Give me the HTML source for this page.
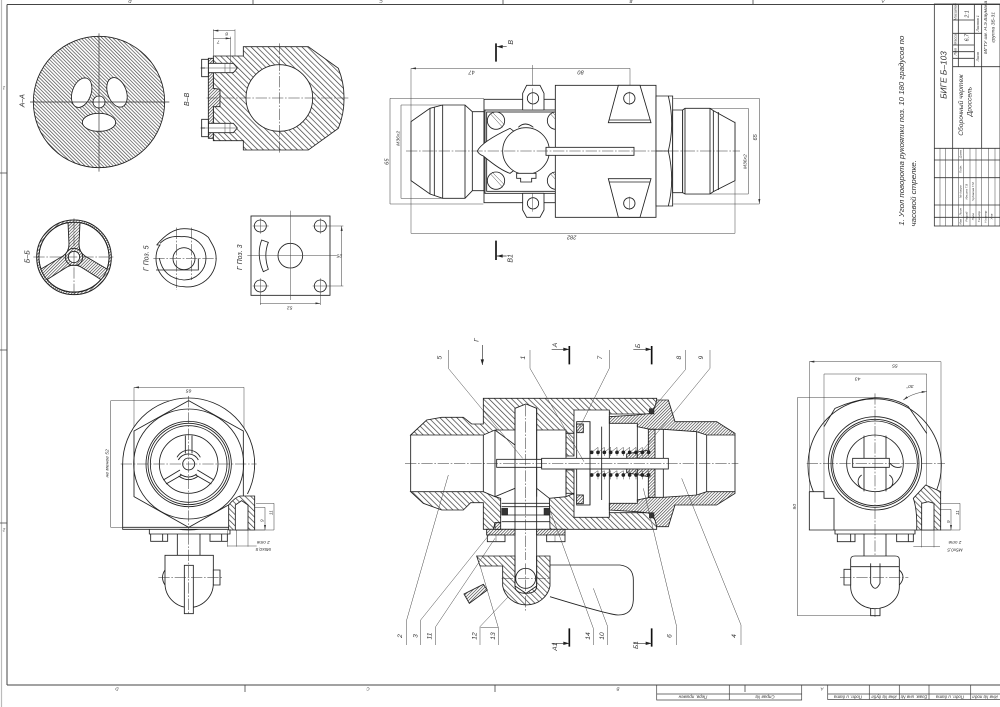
<!DOCTYPE html>
<html lang="ru"><head><meta charset="utf-8"><title>Дроссель</title>
<style>
html,body{margin:0;padding:0;background:#fff}
svg{display:block;filter:blur(.35px)}
text{font-family:"Liberation Sans","DejaVu Sans",sans-serif;font-style:italic;fill:#333;text-anchor:middle;dominant-baseline:central}
.m{fill:none;stroke:#222;stroke-width:2.6}
.w{fill:#fff;stroke:#222;stroke-width:2.6}
.h{fill:url(#h);stroke:#222;stroke-width:2.6}
.n{fill:url(#n);stroke:#222;stroke-width:2.6}
.k{fill:#333;stroke:#222;stroke-width:1.5}
.t{fill:none;stroke:#444;stroke-width:1.5}
.c{fill:none;stroke:#333;stroke-width:1.6;stroke-dasharray:34 5 5 5}
.d{fill:none;stroke:#444;stroke-width:1.6;marker-start:url(#ar);marker-end:url(#ar)}
.l{fill:none;stroke:#333;stroke-width:2}
.s{fill:none;stroke:#111;stroke-width:5}
.q{fill:#222;stroke:none}
.f{fill:none;stroke:#333;stroke-width:2.4}
</style></head><body>
<svg width="1000" height="707" viewBox="0 0 1000 707" xmlns="http://www.w3.org/2000/svg">
<defs>
<pattern id="a" width="7.5" height="7.5" patternUnits="userSpaceOnUse" patternTransform="rotate(-45)"><rect width="7.5" height="7.5" fill="#fff"/><line x1="1" y1="0" x2="1" y2="7.5" stroke="#444" stroke-width="2"/></pattern>
<pattern id="h" width="12" height="12" patternUnits="userSpaceOnUse" patternTransform="rotate(-45)"><rect width="12" height="12" fill="#fff"/><line x1="1" y1="0" x2="1" y2="12" stroke="#333" stroke-width="2"/></pattern>
<pattern id="n" width="6.5" height="6.5" patternUnits="userSpaceOnUse" patternTransform="rotate(45)"><rect width="6.5" height="6.5" fill="#fff"/><line x1="1" y1="0" x2="1" y2="6.5" stroke="#444" stroke-width="2"/></pattern>
<marker id="ar" markerUnits="userSpaceOnUse" markerWidth="16" markerHeight="8" refX="15" refY="4" orient="auto-start-reverse"><path d="M0 1L15 4L0 7Z" fill="#333"/></marker>
</defs>
<rect width="1000" height="707" fill="#fff"/>

<!-- frame -->
<g fill="none" stroke="#444">
<path d="M7 4.5H1000M7 4.5V685M7 685H1000" stroke-width="1"/>
<path d="M1.5 0V707" stroke="#bbb" stroke-width="1.2"/>
<path d="M253 0V4.5M503 0V4.5M753 0V4.5M0 173H7M0 350H7M0 523H7M245 685V692M495 685V692M745 685V692" stroke-width=".8"/>
<path d="M656.7 685V700H801.7V685M729.3 685V700M656.7 694H801.7M827.7 685V699.5H1000M869.3 685V699.5M899.3 685V699.5M929 685V699.5M970.7 685V699.5M827.7 694H1000" stroke-width=".7"/>
</g>
<g font-size="4.5">
<text x="130" y="1.5" transform="rotate(180 130 1.5)">D</text>
<text x="381" y="1.5" transform="rotate(180 381 1.5)">C</text>
<text x="631" y="1.5" transform="rotate(180 631 1.5)">B</text>
<text x="883" y="1.5" transform="rotate(180 883 1.5)">A</text>
<text x="117" y="689" transform="rotate(180 117 689)">D</text>
<text x="368" y="689" transform="rotate(180 368 689)">C</text>
<text x="618" y="689" transform="rotate(180 618 689)">B</text>
<text x="822" y="689" transform="rotate(180 822 689)">A</text>
<text x="4" y="88" transform="rotate(180 4 88)">1</text>
<text x="4" y="530" transform="rotate(180 4 530)">2</text>
<text x="693" y="697" transform="rotate(180 693 697)">Перв. примен</text>
<text x="765" y="697" transform="rotate(180 765 697)">Справ №</text>
<text x="848" y="697" transform="rotate(180 848 697)">Подп. и дата</text>
<text x="884" y="697" transform="rotate(180 884 697)">Инв № дубл</text>
<text x="914" y="697" transform="rotate(180 914 697)">Взам. инв №</text>
<text x="950" y="697" transform="rotate(180 950 697)">Подп. и дата</text>
<text x="985" y="697" transform="rotate(180 985 697)">Инв № подл</text>
</g>

<!-- upper-left group (3x coordinates) -->
<g transform="scale(.33333)">
<!-- A-A -->
<circle cx="297" cy="306" r="197" fill="url(#a)" stroke="#222" stroke-width="2.6"/>
<ellipse cx="245" cy="278" rx="28" ry="46" transform="rotate(20 245 278)" class="w"/>
<ellipse cx="351" cy="277" rx="28" ry="46" transform="rotate(-20 351 277)" class="w"/>
<ellipse cx="297" cy="367" rx="50" ry="27" class="w"/>
<circle cx="297" cy="306" r="18" class="w"/>
<path d="M297 100V515M90 306H508" class="l"/>
<text x="69" y="302" font-size="21" transform="rotate(-90 69 302)">А–А</text>

<!-- B-B -->
<path d="M640 168H730V140H925L1015 205Q1033 250 1032 295Q1033 340 1015 385L925 450H730V422H640Z" class="h"/>
<circle cx="838" cy="294" r="100" class="w"/>
<path d="M625 175H640V265L660 268V320H640V415H625Z" class="n"/>
<path d="M625 190H700L712 204L700 218H625ZM625 370H700L712 384L700 398H625Z" class="w"/>
<path d="M605 178H625V230H605ZM605 358H625V410H605Z" class="w"/>
<path d="M675 190V218M690 190V218M675 370V398M690 370V398M605 204H712M605 384H712" class="t"/>
<path d="M602 204H615M602 384H615" class="m"/>
<path d="M838 130V460M620 294H1045" class="c"/>
<path d="M640 88V168M705 88V168M692 110V190" class="t"/>
<path d="M640 92H705M640 115H692" class="d"/>
<text x="680" y="101" font-size="15" transform="rotate(180 680 101)">8</text>
<text x="655" y="125" font-size="15" transform="rotate(180 655 125)">7</text>
<text x="562" y="298" font-size="21" transform="rotate(-90 562 298)">В–В</text>

<!-- Б-Б -->
<circle cx="222" cy="772" r="112" fill="url(#n)" stroke="#222" stroke-width="3"/>
<g transform="translate(222,771) scale(3) translate(-74,-257)">
<path d="M80 222.5A35 35 0 0 1 106.9 269L85 256Q79 252 79 244Z" fill="#fff" stroke="#222" stroke-width=".9"/>
<path d="M68 222.5A35 35 0 0 0 41.1 269L63 256Q69 252 69 244Z" fill="#fff" stroke="#222" stroke-width=".9"/>
<path d="M100.8 279.5A35 35 0 0 1 47.2 279.5L67 267Q74 263 81 267Z" fill="#fff" stroke="#222" stroke-width=".9"/>
</g>
<circle cx="222" cy="772" r="105" fill="none" stroke="#222" stroke-width="2.6"/>
<circle cx="222" cy="771" r="26" fill="url(#n)" stroke="#222" stroke-width="2.6"/>
<circle cx="222" cy="771" r="17" class="w"/>
<path d="M222 655V890M100 771H340" class="c"/>
<text x="84" y="770" font-size="21" transform="rotate(-90 84 770)">Б–Б</text>

<!-- Г Поз 5 -->
<path d="M470 735Q510 686 552 686Q595 686 625 712L638 735" class="m"/>
<path d="M638 735A85 85 0 0 1 552 860A85 85 0 0 1 468 775Q468 750 480 735L470 735" class="m"/>
<path d="M480 730Q505 705 545 710A66 66 0 0 1 618 775A66 66 0 0 1 552 840Q490 835 478 775" class="m"/>
<circle cx="552" cy="776" r="33" class="m"/>
<path d="M468 810H595V775" class="m"/>
<path d="M530 683V870M575 683V840M460 775H650" class="c"/>
<text x="441" y="775" font-size="21" transform="rotate(-90 441 775)">Г Поз. 5</text>

<!-- Г Поз 3 -->
<rect x="753" y="648" width="237" height="238" class="m"/>
<circle cx="871" cy="767" r="37" class="m"/>
<g class="m"><circle cx="781" cy="678" r="18"/><circle cx="961" cy="678" r="18"/><circle cx="781" cy="858" r="18"/><circle cx="961" cy="858" r="18"/></g>
<path d="M785 720L805 727Q790 765 805 808L790 815Q768 765 785 720Z" class="m"/>
<path d="M871 632V900M742 767H1010M758 678H806M938 678H1030M758 858H806M938 858H1030M781 655V701M961 655V701M781 835V915M961 835V915" class="t"/>
<path d="M1025 678V858M781 910H961" class="d"/>
<text x="1018" y="766" font-size="15" transform="rotate(180 1018 766)">25</text>
<text x="869" y="922" font-size="15" transform="rotate(180 869 922)">52</text>
<text x="722" y="772" font-size="21" transform="rotate(-90 722 772)">Г Поз. 3</text>
</g>

<!-- top view -->
<g transform="translate(370,30) scale(.33333)">
<path d="M123 115V610M1095 275V610M780 115V215M487 115V205M60 205H342M93 225H218M910 205H1168M945 235H1135M93 505H218M60 522H340M910 522H1168M945 492H1135" class="t"/>
<path d="M123 115H780M123 610H1095M60 205V522M93 225V505M1135 235V492M1168 205V522" class="d"/>
<path d="M487 105V115" class="t"/>
<path d="M123 275L180 235L218 225H285L307 245H342V482H307L285 505H218L180 492L123 452Z" class="w"/>
<path d="M180 235V492M193 232V497M218 225V505M285 225V505M307 245V482" class="m"/>
<path d="M342 208H556V518H342Z" class="w"/>
<rect x="345" y="240" width="245" height="250" class="w"/>
<rect x="350" y="246" width="234" height="238" class="m"/>
<path d="M458 240V190L470 166H510L522 190V240" class="w"/>
<path d="M458 490V540L470 562H510L522 540V490" class="w"/>
<path d="M458 240H522M458 490H522" class="w"/>
<circle cx="489" cy="205" r="17" class="w"/><circle cx="489" cy="520" r="17" class="w"/>
<g class="w"><circle cx="378" cy="272" r="26"/><circle cx="558" cy="272" r="26"/><circle cx="378" cy="452" r="26"/><circle cx="558" cy="452" r="26"/></g>
<path d="M360 250L398 292M366 246L404 285M540 250L578 292M546 246L584 285M360 430L398 472M366 426L404 465M540 430L578 472M546 426L584 465" class="t"/>
<path d="M322 363Q335 335 420 295L440 310V415L420 430Q390 420 340 378Q325 372 322 363Z" class="w"/>
<path d="M445 292Q465 272 490 292" class="m"/>
<circle cx="468" cy="363" r="70" class="w"/>
<path d="M440 430H498V445H485V456H452V445H440Z" class="w"/>
<rect x="556" y="166" width="302" height="396" class="w"/>
<path d="M745 166H810L843 278H715Z" class="w"/>
<path d="M718 270H840" class="m"/>
<path d="M745 562H810L843 446H715Z" class="w"/>
<path d="M718 456H840" class="m"/>
<circle cx="778" cy="205" r="17" class="w"/><circle cx="778" cy="520" r="17" class="w"/>
<rect x="528" y="352" width="264" height="24" class="w"/>
<path d="M858 198H908V528H858Z" class="w"/>
<path d="M895 198Q915 280 895 363Q915 450 895 528M858 363H895" class="m"/>
<path d="M908 240H938V488H908Z" class="w"/>
<path d="M938 240L945 235H1020L1030 242L1095 278V452L1030 485L1020 492H945L938 488Z" class="w"/>
<path d="M945 235V492M1020 235V492M1030 242V485M1045 246V480" class="m"/>
<path d="M108 363H1110" class="c"/>
<path d="M487 175V240M487 490V545M778 185V225M778 500V540" class="t"/>
<text x="305" y="125" font-size="17" transform="rotate(180 305 125)">47</text>
<text x="632" y="125" font-size="17" transform="rotate(180 632 125)">80</text>
<text x="605" y="620" font-size="17" transform="rotate(180 605 620)">282</text>
<text x="52" y="395" font-size="17" transform="rotate(-90 52 395)">65</text>
<text x="85" y="325" font-size="15" transform="rotate(-90 85 325)">М36х2</text>
<text x="1127" y="395" font-size="15" transform="rotate(-90 1127 395)">М36х2</text>
<text x="1158" y="322" font-size="17" transform="rotate(-90 1158 322)">65</text>
<path d="M378 40V95M378 632V690" class="s"/>
<path d="M380 50H410M380 678H410" class="l"/><path d="M380 50L398 45V55ZM380 678L398 673V683Z" class="q"/>
<text x="425" y="37" font-size="21" transform="rotate(-90 425 37)">В</text>
<text x="423" y="685" font-size="21" transform="rotate(-90 423 685)">В1</text>
</g>

<!-- central section -->
<g transform="translate(380,330) scale(.33333)">
<rect x="92" y="315" width="770" height="170" fill="#fff"/>
<!-- top hatched -->
<path d="M92 315L140 270L185 262H250L275 282H310V205H830V222L810 252H688V240H582V310H558V300H470V235L438 222L405 235V300H345L310 315Z" class="h"/>
<path d="M558 310H582V378H558ZM558 420H582V490H558Z" class="h"/>
<!-- bottom hatched -->
<path d="M92 485L130 520L185 540H250L272 518H310V598H340L345 578H362V505L345 500L310 485Z" class="h"/>
<path d="M508 505L558 500L582 490V562H688V548H810L830 578V598H510Z" class="h"/>
<!-- right fitting -->
<path d="M688 280V260L770 255L815 250L825 230L830 210H865L885 275H1010L1065 310V315H980L950 305L850 298H810L772 290V280Z" class="n"/>
<path d="M688 520V540L770 545L815 550L825 570L830 590H865L885 525H1010L1065 490V485H980L950 495L850 502H810L772 510V520Z" class="n"/>
<path d="M805 298H825V385H740V372L805 360ZM805 502H825V415H740V428L805 440Z" class="n"/>
<!-- bore lines -->
<path d="M92 315V485M310 315V485M345 300V500M470 300V500M558 300V500M850 298V502M950 305V495M980 315V485M1065 315V485" class="m"/>
<path d="M405 235V690M470 235V690" class="m"/>
<path d="M345 300L405 345M345 500L405 475M470 475L508 505" class="m"/>
<!-- pin rect -->
<rect x="350" y="388" width="135" height="24" class="w"/>
<path d="M405 388V412M470 388V412" class="m"/>
<!-- disk -->
<rect x="590" y="275" width="40" height="250" class="w"/>
<path d="M630 275V525M665 290V510M688 252V548M772 285V515" class="m"/>
<rect x="485" y="385" width="380" height="32" class="w"/>
<path d="M665 385V417M630 385V417" class="m"/>
<!-- seals -->
<rect x="590" y="282" width="20" height="26" class="n"/><rect x="590" y="495" width="20" height="26" class="n"/>
<rect x="365" y="535" width="18" height="20" class="k"/><rect x="492" y="535" width="18" height="20" class="k"/>
<rect x="808" y="236" width="14" height="16" class="k"/><rect x="808" y="548" width="14" height="16" class="k"/>
<!-- springs -->
<g class="t">
<path d="M635 367L654 352V378M654 367L673 352V378M673 367L692 352V378M692 367L711 352V378M711 367L730 352V378M730 367L749 352V378M749 367L768 352V378M768 367L787 352V378M787 367L806 352V378"/>
<path d="M635 435L654 422V448M654 435L673 422V448M673 435L692 422V448M692 435L711 422V448M711 435L730 422V448M730 435L749 422V448M749 435L768 422V448M768 435L787 422V448M787 435L806 422V448"/>
</g>
<g class="q">
<circle cx="635" cy="367" r="5.5"/><circle cx="654" cy="367" r="5.5"/><circle cx="673" cy="367" r="5.5"/><circle cx="692" cy="367" r="5.5"/><circle cx="711" cy="367" r="5.5"/><circle cx="730" cy="367" r="5.5"/><circle cx="749" cy="367" r="5.5"/><circle cx="768" cy="367" r="5.5"/><circle cx="787" cy="367" r="5.5"/><circle cx="806" cy="367" r="5.5"/>
<circle cx="635" cy="435" r="5.5"/><circle cx="654" cy="435" r="5.5"/><circle cx="673" cy="435" r="5.5"/><circle cx="692" cy="435" r="5.5"/><circle cx="711" cy="435" r="5.5"/><circle cx="730" cy="435" r="5.5"/><circle cx="749" cy="435" r="5.5"/><circle cx="768" cy="435" r="5.5"/><circle cx="787" cy="435" r="5.5"/><circle cx="806" cy="435" r="5.5"/>
</g>
<!-- lower flange -->
<path d="M365 520H510M365 530H510M365 555H510M365 575H510M345 598H510" class="m"/>
<path d="M320 598H405V615H320ZM470 598H555V615H470Z" class="n"/>
<path d="M345 578H362V598H345Z" class="n"/>
<path d="M322 615H375V635H322ZM500 615H555V635H500Z" class="w"/>
<path d="M348 615V635M525 615V635" class="t"/>
<!-- handle -->
<path d="M510 705H720Q760 710 760 750V810Q758 855 715 855Q690 855 510 800" class="w"/>
<path d="M290 678H405V768L438 790L470 768V678H510V768A72 68 0 0 1 368 768V708H300Z" class="h"/>
<path d="M405 678V768Q405 790 438 790Q470 790 470 768V678" class="m"/>
<circle cx="437" cy="745" r="30" class="m"/>
<path d="M365 745H512M437 700V845" class="c"/>
<path d="M252 792L310 763L322 780L268 820Z" class="n"/>
<!-- axis -->
<path d="M75 400H1075" class="c"/>
<path d="M437 225V690" class="c"/>
<!-- leaders -->
<g class="t">
<path d="M205 60V115L428 385M450 60V115L612 395M688 60V115L590 310M917 60V118L815 240M990 60V115L785 365"/>
<path d="M80 945V870L205 435M122 945V870L335 605M167 945V890L345 625M300 945V890L385 800M302 893H355V945M355 893L298 700M640 945V895L510 540M683 945V890L640 775M890 945V890L790 475M1083 945V885L905 445"/>
</g>
<g font-size="20">
<text x="180" y="83" transform="rotate(-90 180 83)">5</text>
<text x="430" y="83" transform="rotate(-90 430 83)">1</text>
<text x="662" y="83" transform="rotate(-90 662 83)">7</text>
<text x="898" y="83" transform="rotate(-90 898 83)">8</text>
<text x="965" y="83" transform="rotate(-90 965 83)">9</text>
<text x="62" y="918" transform="rotate(-90 62 918)">2</text>
<text x="108" y="918" transform="rotate(-90 108 918)">3</text>
<text x="150" y="918" transform="rotate(-90 150 918)">11</text>
<text x="285" y="918" transform="rotate(-90 285 918)">12</text>
<text x="340" y="918" transform="rotate(-90 340 918)">13</text>
<text x="625" y="918" transform="rotate(-90 625 918)">14</text>
<text x="668" y="918" transform="rotate(-90 668 918)">10</text>
<text x="870" y="918" transform="rotate(-90 870 918)">6</text>
<text x="1063" y="918" transform="rotate(-90 1063 918)">4</text>
<text x="291" y="30" transform="rotate(-90 291 30)">Г</text>
<text x="527" y="45" transform="rotate(-90 527 45)">А</text>
<text x="775" y="48" transform="rotate(-90 775 48)">Б</text>
<text x="527" y="950" transform="rotate(-90 527 950)">А1</text>
<text x="770" y="945" transform="rotate(-90 770 945)">Б1</text>
</g>
<path d="M307 45V105" class="l"/><path d="M307 105L302 88H312Z" class="q"/>
<path d="M568 48V103M815 48V103M568 895V950M815 895V950" class="s"/>
<path d="M515 58H568M760 58H815M515 940H568M760 940H815" class="l"/>
<path d="M568 58L550 53V63ZM815 58L797 53V63ZM568 940L550 935V945ZM815 940L797 935V945Z" class="q"/>
</g>

<!-- left view -->
<g transform="translate(90,370) scale(.33333)">
<path d="M132 52V180M462 52V185M62 92H296M62 472H296M552 400H495M552 480H495M525 412H480M525 480H480M412 480V530M440 480V530M474 480V530" class="t"/>
<path d="M132 52H462M62 92V472M552 400V480M525 412V480" class="d"/>
<path d="M412 528H500" class="t"/>
<circle cx="296" cy="282" r="198" class="w"/>
<path d="M98 282V478H420V410H498V378" fill="#fff" stroke="none"/>
<path d="M98 282V478H420M98 472H420" class="m"/>
<path d="M296 92L460 183V380L296 472L132 380V183Z" class="m"/>
<circle cx="296" cy="282" r="165" class="m"/>
<circle cx="296" cy="282" r="128" class="m"/><circle cx="296" cy="282" r="122" class="m"/><circle cx="296" cy="282" r="115" class="m"/>
<circle cx="296" cy="282" r="88" class="m"/>
<circle cx="296" cy="282" r="18" class="m"/>
<path d="M286 197V250M306 197V250M220 330L270 300M228 342L275 315M372 330L322 300M364 342L317 315M261 262A42 42 0 0 1 296 240A40 40 0 0 1 331 262M265 270A34 34 0 0 1 296 252A32 32 0 0 1 325 270M270 312Q296 330 320 312M266 318Q296 340 325 318" class="m"/>
<path d="M296 78V490M92 282H500" class="c"/>
<path d="M416 405Q435 382 450 378H494V480H416Z" class="h"/>
<path d="M436 480V405L455 392L474 405V480Z" class="w"/>
<path d="M178 478V492H420V478M182 492H233V514H182ZM360 492H412V514H360ZM218 492V514M395 492V514" class="m"/>
<path d="M262 492V556M330 492V556" class="m"/>
<path d="M225 556H370V640A72 72 0 0 1 225 640Z" class="w"/>
<path d="M225 600Q210 622 225 645" class="m"/>
<path d="M370 600H390V645H370Z" class="w"/>
<rect x="283" y="586" width="27" height="145" class="w"/>
<path d="M205 622H400M296 490V735" class="c"/>
<text x="296" y="62" font-size="15" transform="rotate(180 296 62)">65</text>
<text x="52" y="280" font-size="15" transform="rotate(-90 52 280)">не менее 52</text>
<text x="543" y="428" font-size="14" transform="rotate(-90 543 428)">11</text>
<text x="516" y="452" font-size="14" transform="rotate(-90 516 452)">9</text>
<text x="520" y="517" font-size="14" transform="rotate(180 520 517)">2 отв</text>
<text x="520" y="538" font-size="14" transform="rotate(180 520 538)">М5х0,5</text>
</g>

<!-- right view -->
<g transform="translate(780,350) scale(.33333)">
<path d="M88 35V425M483 35V425M132 72V445M440 72V420M52 143H285M52 797H285M540 460H480M540 540H480M513 478H480M513 540H480M425 540V592M462 540V592" class="t"/>
<path d="M88 35H483M132 72H440M52 143V797M540 460V540M513 478V540" class="d"/>
<path d="M400 590H480" class="t"/>
<path d="M370 150Q400 128 440 125" class="d"/>
<text x="390" y="108" font-size="15" transform="rotate(180 390 108)">30°</text>
<path d="M100 425A200 200 0 1 1 470 420" class="m"/>
<path d="M132 230L165 175Q220 150 285 143Q345 143 385 170L440 250" class="m"/>
<path d="M88 425V540H415M88 425H132V445H162V540" class="m"/>
<circle cx="285" cy="340" r="140" class="m"/><circle cx="285" cy="340" r="132" class="m"/><circle cx="285" cy="340" r="127" class="m"/>
<circle cx="285" cy="340" r="85" class="m"/>
<path d="M252 257V424M318 257V424" class="m"/>
<path d="M245 375A24 24 0 0 0 245 415M328 375A24 24 0 0 1 328 415M330 340Q345 358 365 350" class="m"/>
<rect x="218" y="325" width="110" height="27" class="w"/>
<path d="M285 130V805M80 340H495" class="c"/>
<path d="M400 445L437 405L482 425V540H410Q412 480 400 445Z" class="h"/>
<path d="M425 540V460L445 455L462 460V540Z" class="w"/>
<path d="M165 540V552H405V540M172 552H225V575H172ZM350 552H400V575H350ZM212 552V575M385 552V575" class="m"/>
<path d="M252 552V618M318 552V618" class="m"/>
<path d="M212 628Q212 618 225 618H345Q358 618 358 628V710A73 66 0 0 1 212 710Z" class="w"/>
<path d="M212 650H358M358 660Q380 680 358 705" class="m"/>
<path d="M272 640V700Q285 730 300 700V640" class="m"/>
<path d="M192 658H212V705H192Z" class="w"/>
<path d="M272 775V797H300V775" class="m"/>
<path d="M180 682H385" class="c"/>
<text x="345" y="47" font-size="15" transform="rotate(180 345 47)">55</text>
<text x="233" y="85" font-size="15" transform="rotate(180 233 85)">43</text>
<text x="45" y="470" font-size="15" transform="rotate(-90 45 470)">90</text>
<text x="532" y="488" font-size="14" transform="rotate(-90 532 488)">11</text>
<text x="505" y="515" font-size="14" transform="rotate(-90 505 515)">9</text>
<text x="525" y="578" font-size="14" transform="rotate(180 525 578)">2 отв</text>
<text x="525" y="600" font-size="14" transform="rotate(180 525 600)">М5х0,5</text>
</g>

<!-- note and title block -->
<g transform="translate(880,0) scale(.33333)">
<text x="65" y="0" font-size="23" transform="translate(65,392) rotate(-90) translate(-65,0)" textLength="570" lengthAdjust="spacingAndGlyphs">1. Угол поворота рукоятки поз. 10 180 градусов по</text>
<text x="100" y="0" font-size="23" transform="translate(100,580) rotate(-90) translate(-100,0)" textLength="200" lengthAdjust="spacingAndGlyphs">часовой стрелке.</text>
<rect x="163" y="12" width="197" height="666" class="f"/>
<path d="M218 12V678M305 12V445M163 445H360M163 480H360M163 533H360M163 615H360M163 652H360" class="f"/>
<path d="M180 445V678M197 445V678M235 445V678M250 445V678M270 445V678M288 445V678M305 445V678M325 445V678M345 445V678" class="t"/>
<path d="M218 60H283M218 100H305M218 135H283M218 155H283M218 175H283M218 200H360M235 12V200M283 12V200" class="f"/>
<text x="190" y="225" font-size="25" transform="rotate(-90 190 225)">БИГЕ Б–103</text>
<text x="245" y="315" font-size="20" transform="rotate(-90 245 315)">Сборочный чертеж</text>
<text x="270" y="305" font-size="20" transform="rotate(-90 270 305)">Дроссель</text>
<text x="318" y="82" font-size="15" transform="rotate(-90 318 82)">МГТУ им. Н.Э.Баумана</text>
<text x="340" y="82" font-size="15" transform="rotate(-90 340 82)">группа ЗБ-31</text>
<text x="263" y="113" font-size="16" transform="rotate(-90 263 113)">6,7</text>
<text x="263" y="42" font-size="16" transform="rotate(-90 263 42)">2:1</text>
<text x="226" y="155" font-size="11" transform="rotate(-90 226 155)">Лит</text>
<text x="226" y="118" font-size="11" transform="rotate(-90 226 118)">Масса</text>
<text x="226" y="35" font-size="11" transform="rotate(-90 226 35)">Масштаб</text>
<text x="294" y="170" font-size="11" transform="rotate(-90 294 170)">Лист</text>
<text x="294" y="70" font-size="11" transform="rotate(-90 294 70)">Листов 1</text>
<g font-size="9">
<text x="242" y="665" transform="rotate(-90 242 665)">Изм</text>
<text x="242" y="635" transform="rotate(-90 242 635)">Лист</text>
<text x="242" y="575" transform="rotate(-90 242 575)">№ докум</text>
<text x="242" y="507" transform="rotate(-90 242 507)">Подп.</text>
<text x="242" y="462" transform="rotate(-90 242 462)">Дата</text>
<text x="260" y="650" transform="rotate(-90 260 650)">Разраб</text>
<text x="260" y="575" transform="rotate(-90 260 575)">Ильина Т.В</text>
<text x="279" y="650" transform="rotate(-90 279 650)">Пров</text>
<text x="279" y="575" transform="rotate(-90 279 575)">Чудакова Г.М</text>
<text x="297" y="650" transform="rotate(-90 297 650)">Т.контр</text>
<text x="316" y="650" transform="rotate(-90 316 650)">Н.контр</text>
<text x="335" y="650" transform="rotate(-90 335 650)">Утв</text>
</g>
</g>
</svg>
</body></html>
